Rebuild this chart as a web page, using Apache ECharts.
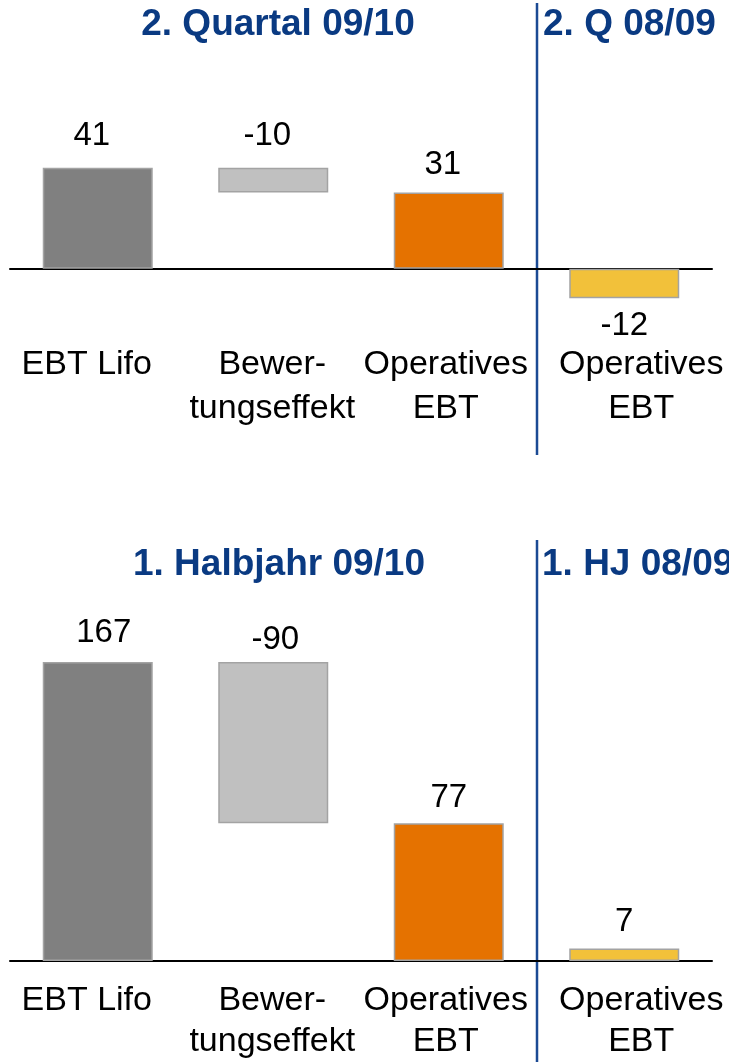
<!DOCTYPE html>
<html>
<head>
<meta charset="utf-8">
<script src="https://cdn.jsdelivr.net/npm/echarts@6/dist/echarts.min.js"></script>
<style>
  html, body { margin: 0; padding: 0; background: #fff; }
  #chart { width: 729px; height: 1062px; }
</style>
</head>
<body>
<div id="chart"></div>
<script>
// Data
const categories = ["EBT Lifo", "Bewer-\ntungseffekt", "Operatives\nEBT", "Operatives\nEBT"];
const kinds = ["total", "delta", "total", "total"];
const quarterValues = [41, -10, 31, -12];
const halfYearValues = [167, -90, 77, 7];
const titles = ["2. Quartal 09/10", "2. Q 08/09", "1. Halbjahr 09/10", "1. HJ 08/09"];

const barColors = ["#808080", "#c0c0c0", "#e57200", "#f2c13a"];
const navy = "#0a3a82";
const font = "'Liberation Sans', Arial, sans-serif";
// small horizontal nudges of the category labels (like the original slide)
const catShift = [-11, -1, -3, 17];

// waterfall: transparent base + visible part
const build_waterfall = (values) => {
  let running = 0;
  const base = [];
  const size = [];
  values.forEach((v, i) => {
    if (kinds[i] === "delta") {
      const end = running + v;
      base.push(Math.min(running, end));
      size.push(Math.abs(v));
      running = end;
    } else {
      base.push(0);
      size.push(v);
      running = v;
    }
  });
  return { base, size };
};

const make_series = (values, gridIdx, labelDist, labelDx) => {
  const wf = build_waterfall(values);
  return [
    {
      type: "bar",
      stack: "wf" + gridIdx,
      xAxisIndex: gridIdx,
      yAxisIndex: gridIdx,
      barWidth: 110,
      silent: true,
      itemStyle: { color: "transparent" },
      data: wf.base,
    },
    {
      type: "bar",
      stack: "wf" + gridIdx,
      xAxisIndex: gridIdx,
      yAxisIndex: gridIdx,
      barWidth: 110,
      data: wf.size.map((s, i) => ({
        value: s,
        itemStyle: {
          color: barColors[i],
          borderColor: "#a3a3a3",
          borderWidth: 1.5,
        },
        label: {
          show: true,
          position: values[i] < 0 && kinds[i] === "total" ? "bottom" : "top",
          distance: labelDist[i],
          offset: [labelDx[i], 0],
          formatter: () => String(values[i]),
          fontSize: 33,
          fontFamily: font,
          color: "#000",
        },
      })),
    },
  ];
};

const make_xaxis = (gridIdx, margin, lineHeight) => ({
  type: "category",
  gridIndex: gridIdx,
  data: categories.map((c, i) => ({
    value: c,
    textStyle: {
      padding: catShift[i] > 0 ? [0, 0, 0, 2 * catShift[i]] : [0, -2 * catShift[i], 0, 0],
    },
  })),
  axisLine: { onZero: true, lineStyle: { color: "#000", width: 2 } },
  axisTick: { show: false },
  axisLabel: {
    interval: 0,
    hideOverlap: false,
    margin: margin,
    fontSize: 34,
    lineHeight: lineHeight,
    fontFamily: font,
    color: "#000",
  },
});

const chart = echarts.init(document.getElementById("chart"));
chart.setOption({
  animation: false,
  title: [
    { text: titles[0], left: 278, top: 6, textAlign: "center" },
    { text: titles[1], left: 543, top: 6 },
    { text: titles[2], left: 279, top: 546, textAlign: "center" },
    { text: titles[3], left: 542, top: 546 },
  ].map((t) => ({
    ...t,
    padding: 0,
    textStyle: { fontSize: 37, fontWeight: "bold", color: navy, fontFamily: font },
  })),
  grid: [
    { left: 10, right: 17, top: 121, height: 197 },
    { left: 10, right: 17, top: 603, height: 360 },
  ],
  xAxis: [make_xaxis(0, 25, 44), make_xaxis(1, 19, 41)],
  yAxis: [
    { type: "value", gridIndex: 0, min: -20, max: 60, show: false, splitLine: { show: false } },
    { type: "value", gridIndex: 1, min: 0, max: 200, show: false, splitLine: { show: false } },
  ],
  series: [
    ...make_series(quarterValues, 0, [15, 15, 11, 11], [-6, -6, -6, 0]),
    ...make_series(halfYearValues, 1, [13, 6, 9, 10], [6, 2, 0, 0]),
  ],
  graphic: [
    { type: "line", shape: { x1: 537, y1: 3, x2: 537, y2: 455 }, style: { stroke: "#1b4a94", lineWidth: 2.5 } },
    { type: "line", shape: { x1: 537, y1: 540, x2: 537, y2: 1062 }, style: { stroke: "#1b4a94", lineWidth: 2.5 } },
  ],
});
</script>
</body>
</html>
